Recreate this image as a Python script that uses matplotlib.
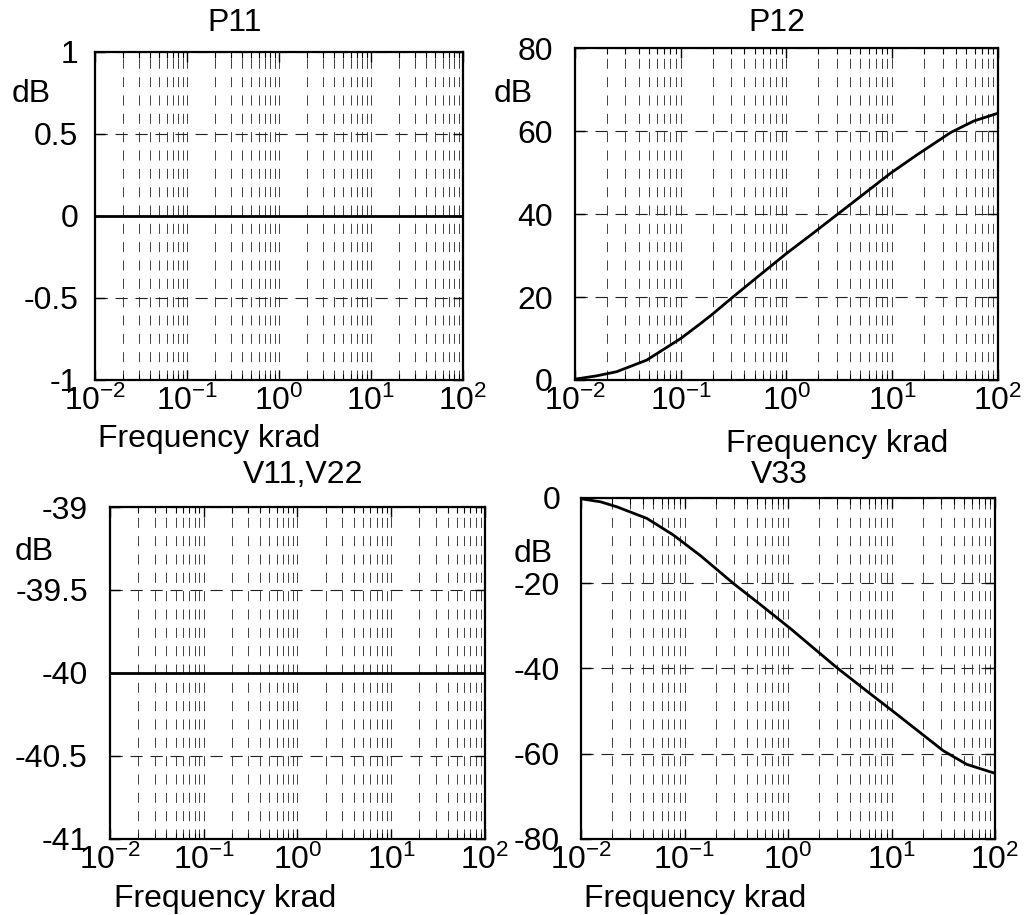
import matplotlib
matplotlib.use('Agg')
import matplotlib.pyplot as plt
from matplotlib.ticker import LogLocator, NullFormatter

plt.rcParams['font.family'] = ['Liberation Sans', 'DejaVu Sans']
plt.rcParams['mathtext.fontset'] = 'custom'
plt.rcParams['mathtext.rm'] = 'Liberation Sans'
plt.rcParams['mathtext.it'] = 'Liberation Sans:italic'
plt.rcParams['mathtext.bf'] = 'Liberation Sans:bold'
plt.rcParams['axes.unicode_minus'] = False

# data
titles = ['P11', 'P12', 'V11,V22', 'V33']
x_ticks = [0.01, 0.1, 1, 10, 100]
x_tick_labels = ['10$^{-2}$', '10$^{-1}$', '10$^{0}$', '10$^{1}$', '10$^{2}$']

p11_freq = [0.01, 100]
p11_db = [0.0, 0.0]
p11_yticks = [-1, -0.5, 0, 0.5, 1]
p11_ylabels = ['-1', '-0.5', '0', '0.5', '1']

p12_freq = [0.01, 0.016, 0.0248, 0.0477, 0.1, 0.152, 0.196, 0.315, 0.56, 1.0,
            1.79, 2.99, 5.49, 9.6, 17, 35.5, 58.8, 100]
p12_db = [0.2, 1.0, 2.0, 4.8, 10.0, 13.5, 15.7, 20.1, 25.3, 30.5,
          35.4, 39.8, 45.0, 49.8, 54.2, 59.6, 62.4, 64.3]
p12_yticks = [0, 20, 40, 60, 80]
p12_ylabels = ['0', '20', '40', '60', '80']

v11_freq = [0.01, 100]
v11_db = [-40.0, -40.0]
v11_yticks = [-41, -40.5, -40, -39.5, -39]
v11_ylabels = ['-41', '-40.5', '-40', '-39.5', '-39']

v33_freq = [0.01, 0.0154, 0.0223, 0.0433, 0.078, 0.142, 0.298, 0.54, 1.05,
            2.96, 5.76, 10.4, 31.6, 53.3, 100]
v33_db = [-0.2, -0.9, -2.1, -4.8, -8.7, -13.5, -20.1, -25.0, -30.6,
          -39.8, -45.3, -50.1, -59.3, -62.5, -64.6]
v33_yticks = [-80, -60, -40, -20, 0]
v33_ylabels = ['-80', '-60', '-40', '-20', '0']

fig = plt.figure(figsize=(10.24, 9.15), dpi=100)

# (rect, title x, title pad, ytick pad, dB label pos, xlabel pos)
panels = [
    ([0.0928, 0.5847, 0.3594, 0.3585], 0.378, 15, 12, (-0.174, 0.848), (0.31, -0.204),
     p11_freq, p11_db, p11_yticks, p11_ylabels),
    ([0.5615, 0.5847, 0.4131, 0.3628], 0.478, 12, 16, (-0.147, 0.837), (0.619, -0.218),
     p12_freq, p12_db, p12_yticks, p12_ylabels),
    ([0.1074, 0.0831, 0.3662, 0.3628], 0.515, 17, 16, (-0.203, 0.840), (0.307, -0.205),
     v11_freq, v11_db, v11_yticks, v11_ylabels),
    ([0.5674, 0.0831, 0.4043, 0.3727], 0.48, 11, 15, (-0.116, 0.812), (0.275, -0.199),
     v33_freq, v33_db, v33_yticks, v33_ylabels),
]

fs = 23
for title, (rect, tx, tpad, ypad, dbpos, xlpos, fr, db, yt, yl) in zip(titles, panels):
    ax = fig.add_axes(rect)
    ax.set_xscale('log')
    ax.plot(fr, db, color='k', lw=2)
    ax.set_xlim(0.01, 100)
    ax.set_ylim(yt[0], yt[-1])
    ax.set_xticks(x_ticks, x_tick_labels)
    ax.xaxis.set_minor_locator(LogLocator(base=10, subs=range(2, 10), numticks=50))
    ax.xaxis.set_minor_formatter(NullFormatter())
    ax.set_yticks(yt, yl)

    ax.grid(which='both', axis='x', color='#222222', lw=0.6, ls=(0, (12, 10)))
    ax.grid(which='major', axis='y', color='#222222', lw=0.8, ls=(0, (11, 7)))

    ax.tick_params(which='both', direction='in', top=True, right=True, colors='k')
    ax.tick_params(which='major', length=7, width=1, labelsize=fs)
    ax.tick_params(which='minor', length=4, width=0.8)
    ax.tick_params(axis='x', which='major', pad=4)
    ax.tick_params(axis='y', which='major', pad=ypad)
    for sp in ax.spines.values():
        sp.set_linewidth(1.6)

    ax.set_title(title, fontsize=fs, x=tx, pad=tpad)
    ax.set_ylabel('dB', fontsize=fs, rotation=0, ha='center', va='baseline')
    ax.yaxis.set_label_coords(*dbpos)
    ax.set_xlabel('Frequency krad', fontsize=fs, va='baseline')
    ax.xaxis.set_label_coords(*xlpos)

fig.savefig('out.png', dpi=100)
